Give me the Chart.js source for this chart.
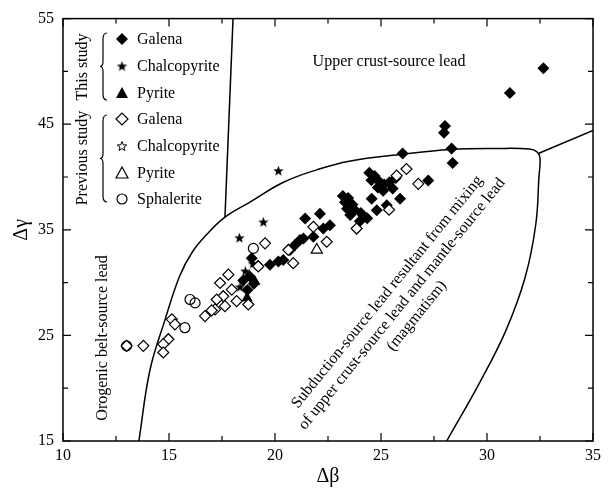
<!DOCTYPE html>
<html lang="en">
<head>
  <meta charset="UTF-8" />
  <title>Δγ vs Δβ lead source diagram</title>
  <script src="https://cdn.jsdelivr.net/npm/chart.js"></script>
  <style>
    html, body { margin: 0; padding: 0; background: #fff; }
    #wrap { width: 611px; height: 489px; }
  </style>
</head>
<body>
  <div id="wrap"><canvas id="chart" width="611" height="489"></canvas></div>
  <script>
    // ticks
    const xTicks = [10, 15, 20, 25, 30, 35];
    const yTicks = [15, 25, 35, 45, 55];

    // this study (filled markers)
    const galenaThis = [
      [32.66, 50.3], [31.08, 47.96], [28.02, 44.83], [27.97, 44.2], [26.02, 42.23], [28.33, 42.7],
      [28.38, 41.32], [27.23, 39.67], [25.9, 37.94], [25.27, 37.32], [24.56, 37.94],
      [24.45, 40.4], [24.7, 40.1], [24.55, 39.7], [24.9, 39.6], [25.15, 39.3], [24.85, 39.0],
      [25.4, 39.5], [25.7, 39.9], [25.1, 38.7], [25.55, 38.9],
      [23.2, 38.2], [23.45, 38.0], [23.3, 37.6], [23.65, 37.4], [23.4, 37.0], [23.75, 36.9],
      [23.55, 36.4], [24.05, 36.6], [24.0, 35.8], [24.35, 36.1], [24.8, 36.85],
      [22.12, 36.53], [21.42, 36.06], [22.59, 35.44], [22.28, 35.12], [21.81, 34.34], [21.34, 34.18],
      [21.18, 34.03], [20.94, 33.56], [20.71, 33.09], [20.39, 32.15], [20.16, 31.99], [19.76, 31.68],
      [18.9, 32.3], [19.2, 31.6], [18.8, 30.6], [19.0, 29.9], [18.5, 30.2], [18.7, 29.3]
    ];
    const chalcoThis = [[20.16, 40.6], [19.45, 35.75], [18.32, 34.25], [18.6, 31.1], [18.96, 31.8], [18.35, 29.6]];
    const pyriteThis = [[18.68, 28.55], [19.05, 30.1]];

    // previous study (open markers)
    const galenaPrev = [
      [26.2, 40.76], [25.74, 40.13], [26.76, 39.35], [25.38, 36.9], [23.85, 35.12], [21.81, 35.28],
      [22.44, 33.87], [20.63, 33.09], [20.86, 31.84], [19.53, 33.72], [19.21, 31.53],
      [17.8, 30.75], [17.41, 29.96], [17.96, 29.34], [17.56, 28.71], [18.19, 28.24], [17.25, 28.4],
      [18.74, 27.93], [17.64, 27.77], [17.17, 27.46], [16.7, 26.83], [17.01, 27.37],
      [15.13, 26.52], [15.28, 26.05], [14.97, 24.64], [14.73, 24.17], [14.73, 23.38], [13.79, 24.01], [13.0, 24.01]
    ];
    const chalcoPrev = [];
    const pyritePrev = [[21.97, 33.09]];
    const sphaleritePrev = [[18.98, 33.24], [15.99, 28.4], [16.23, 28.08], [15.75, 25.73], [13.0, 24.01]];

    // field boundaries
    const boundaryCurve = [
      [13.58, 15], [14.1, 21.7], [14.8, 26.4], [15.5, 30.6], [16.1, 32.9], [16.8, 34.6], [17.64, 36.2],
      [18.8, 37.6], [20.4, 39.5], [22.0, 40.7], [23.5, 41.5], [26.0, 42.15], [28.3, 42.6], [30.5, 42.7],
      [32.0, 42.65], [32.35, 42.4], [32.5, 41.8], [32.45, 40.0], [32.3, 35.5], [31.8, 30.5],
      [30.9, 25.5], [29.7, 20.7], [28.1, 15]
    ];
    const upperLine = [[18.02, 55], [17.64, 36.2]];
    const rightLine = [[32.45, 42.25], [35, 44.4]];

    const legendRows = [
      { label: 'Galena', kind: 'diamond', fill: true },
      { label: 'Chalcopyrite', kind: 'star', fill: true },
      { label: 'Pyrite', kind: 'triangle', fill: true },
      { label: 'Galena', kind: 'diamond', fill: false },
      { label: 'Chalcopyrite', kind: 'star', fill: false },
      { label: 'Pyrite', kind: 'triangle', fill: false },
      { label: 'Sphalerite', kind: 'circle', fill: false }
    ];

    const SERIF = "'Liberation Serif', 'Times New Roman', serif";

    function makeStar(fill, size) {
      const c = document.createElement('canvas');
      c.width = size; c.height = size;
      const g = c.getContext('2d');
      const cx = size / 2, cy = size / 2 + 0.5, R = size / 2 - 1, r = R * 0.42;
      g.beginPath();
      for (let i = 0; i < 10; i++) {
        const a = -Math.PI / 2 + i * Math.PI / 5;
        const rr = i % 2 ? r : R;
        g.lineTo(cx + rr * Math.cos(a), cy + rr * Math.sin(a));
      }
      g.closePath();
      if (fill) {
        g.fillStyle = '#000'; g.fill();
      } else {
        g.fillStyle = '#fff'; g.fill();
        g.lineWidth = 1; g.strokeStyle = '#000'; g.stroke();
      }
      return c;
    }
    const starFilled = makeStar(true, 13);
    const starOpen = makeStar(false, 12);

    const pts = arr => arr.map(p => ({ x: p[0], y: p[1] }));

    function lineSet(arr, tension) {
      return {
        type: 'scatter', data: pts(arr), showLine: true, tension: tension,
        borderColor: '#000', borderWidth: 1.5, pointRadius: 0, fill: false, order: 10
      };
    }

    // frame, inward ticks, texts, legend
    const decorations = {
      id: 'decorations',
      afterDatasetsDraw(chart) {
        const { ctx, chartArea: a, scales: { x, y } } = chart;
        ctx.save();
        ctx.strokeStyle = '#000';
        ctx.lineWidth = 1.5;
        ctx.strokeRect(a.left, a.top, a.right - a.left, a.bottom - a.top);
        ctx.lineWidth = 1.2;
        ctx.beginPath();
        for (let v = 10; v <= 35.01; v += 2.5) {
          const len = (v % 5 === 0) ? 8 : 5;
          const px = x.getPixelForValue(v);
          ctx.moveTo(px, a.bottom); ctx.lineTo(px, a.bottom - len);
          ctx.moveTo(px, a.top); ctx.lineTo(px, a.top + len);
        }
        for (let v = 15; v <= 55.01; v += 5) {
          const len = ((v - 15) % 10 === 0) ? 8 : 5;
          const py = y.getPixelForValue(v);
          ctx.moveTo(a.left, py); ctx.lineTo(a.left + len, py);
          ctx.moveTo(a.right, py); ctx.lineTo(a.right - len, py);
        }
        ctx.stroke();

        ctx.fillStyle = '#000';
        ctx.font = '16px ' + SERIF;
        ctx.textAlign = 'center';
        ctx.textBaseline = 'middle';
        ctx.fillText('Upper crust-source lead', 389, 62);

        ctx.save();
        ctx.translate(103, 338);
        ctx.rotate(-Math.PI / 2);
        ctx.fillText('Orogenic belt-source lead', 0, 0);
        ctx.restore();

        ctx.save();
        ctx.font = '16px ' + SERIF;
        ctx.translate(402, 304);
        ctx.rotate(-51 * Math.PI / 180);
        ctx.fillText('Subduction-source lead resultant from mixing', 0, -19);
        ctx.fillText('of upper crust-source lead and mantle-source lead', 0, 0);
        ctx.fillText('(magmatism)', 0, 19);
        ctx.restore();

        // legend
        ctx.font = '16px ' + SERIF;
        ctx.save();
        ctx.translate(83, 67); ctx.rotate(-Math.PI / 2);
        ctx.fillText('This study', 0, 0);
        ctx.restore();
        ctx.save();
        ctx.translate(83, 158); ctx.rotate(-Math.PI / 2);
        ctx.fillText('Previous study', 0, 0);
        ctx.restore();

        drawBrace(ctx, 104, 33, 100);
        drawBrace(ctx, 104, 115, 202);

        const rowY = [39, 66, 93, 119, 146, 173, 199];
        ctx.textAlign = 'left';
        legendRows.forEach((row, i) => {
          drawMarker(ctx, row.kind, row.fill, 122, rowY[i]);
          ctx.fillStyle = '#000';
          ctx.fillText(row.label, 137, rowY[i] + 1);
        });
        ctx.restore();
      }
    };

    function drawBrace(ctx, xb, y0, y1) {
      const ym = (y0 + y1) / 2;
      ctx.save();
      ctx.lineWidth = 1.2;
      ctx.strokeStyle = '#000';
      ctx.beginPath();
      ctx.moveTo(xb + 3, y0);
      ctx.quadraticCurveTo(xb - 1, y0, xb - 1, y0 + 6);
      ctx.lineTo(xb - 1, ym - 5);
      ctx.quadraticCurveTo(xb - 1, ym, xb - 4, ym);
      ctx.quadraticCurveTo(xb - 1, ym, xb - 1, ym + 5);
      ctx.lineTo(xb - 1, y1 - 6);
      ctx.quadraticCurveTo(xb - 1, y1, xb + 3, y1);
      ctx.stroke();
      ctx.restore();
    }

    function drawMarker(ctx, kind, fill, cx, cy) {
      ctx.save();
      ctx.lineWidth = 1.2;
      ctx.strokeStyle = '#000';
      ctx.fillStyle = fill ? '#000' : '#fff';
      if (kind === 'star') {
        const img = fill ? starFilled : starOpen;
        ctx.drawImage(img, cx - img.width / 2, cy - img.height / 2);
        ctx.restore();
        return;
      }
      ctx.beginPath();
      if (kind === 'diamond') {
        ctx.moveTo(cx - 6, cy); ctx.lineTo(cx, cy - 6); ctx.lineTo(cx + 6, cy); ctx.lineTo(cx, cy + 6);
      } else if (kind === 'triangle') {
        ctx.moveTo(cx, cy - 6); ctx.lineTo(cx + 6, cy + 5); ctx.lineTo(cx - 6, cy + 5);
      } else {
        ctx.arc(cx, cy, 5, 0, Math.PI * 2);
      }
      ctx.closePath();
      ctx.fill();
      if (!fill) ctx.stroke();
      ctx.restore();
    }

    const markerBase = { type: 'scatter', borderColor: '#000', order: 1 };

    new Chart(document.getElementById('chart'), {
      type: 'scatter',
      data: {
        datasets: [
          lineSet(boundaryCurve, 0.4),
          lineSet(upperLine, 0),
          lineSet(rightLine, 0),
          { ...markerBase, label: 'Galena (previous)', data: pts(galenaPrev), pointStyle: 'rectRot',
            pointRadius: 5.5, backgroundColor: '#fff', borderWidth: 1.2 },
          { ...markerBase, label: 'Sphalerite', data: pts(sphaleritePrev), pointStyle: 'circle',
            pointRadius: 5, backgroundColor: 'rgba(255,255,255,0)', borderWidth: 1.2 },
          { ...markerBase, label: 'Pyrite (previous)', data: pts(pyritePrev), pointStyle: 'triangle',
            pointRadius: 6.5, backgroundColor: '#fff', borderWidth: 1.2 },
          { ...markerBase, label: 'Chalcopyrite (previous)', data: pts(chalcoPrev), pointStyle: starOpen,
            pointRadius: 6 },
          { ...markerBase, label: 'Galena', data: pts(galenaThis), pointStyle: 'rectRot',
            pointRadius: 6, backgroundColor: '#000', borderWidth: 0 },
          { ...markerBase, label: 'Chalcopyrite', data: pts(chalcoThis), pointStyle: starFilled,
            pointRadius: 6 },
          { ...markerBase, label: 'Pyrite', data: pts(pyriteThis), pointStyle: 'triangle',
            pointRadius: 6.5, backgroundColor: '#000', borderWidth: 0 }
        ]
      },
      options: {
        responsive: false,
        animation: false,
        events: [],
        layout: { padding: { left: 0, top: 15, right: 18, bottom: 0 } },
        plugins: { legend: { display: false }, tooltip: { enabled: false } },
        scales: {
          x: {
            type: 'linear', min: 10, max: 35,
            afterBuildTicks: s => { s.ticks = xTicks.map(v => ({ value: v })); },
            afterFit: s => { s.height = 48; },
            ticks: { color: '#000', padding: 5, font: { family: SERIF, size: 16 } },
            grid: { display: false, drawTicks: false },
            border: { display: false },
            title: { display: true, text: 'Δβ', color: '#000', padding: { top: 4, bottom: 0 },
                     font: { family: SERIF, size: 20 } }
          },
          y: {
            type: 'linear', min: 15, max: 55,
            afterBuildTicks: s => { s.ticks = yTicks.map(v => ({ value: v })); },
            afterFit: s => { s.width = 63; },
            ticks: { color: '#000', padding: 9, font: { family: SERIF, size: 16 } },
            grid: { display: false, drawTicks: false },
            border: { display: false },
            title: { display: true, text: 'Δγ', color: '#000', padding: { top: 10, bottom: 0 },
                     font: { family: SERIF, size: 20 } }
          }
        }
      },
      plugins: [decorations]
    });
  </script>
</body>
</html>
